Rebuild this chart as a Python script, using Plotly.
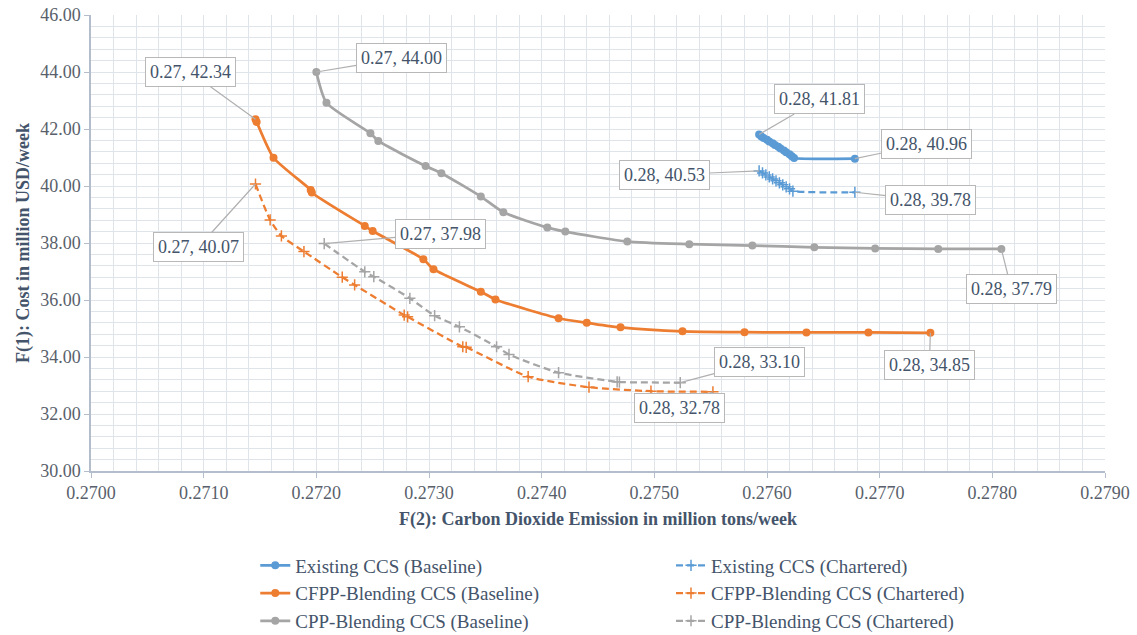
import plotly.graph_objects as go

# Pareto fronts: F(2) CO2 emission (million tons/week) vs F(1) cost (million USD/week)
existing_base_x = [0.27593, 0.27595, 0.27597, 0.27600, 0.27602, 0.27605, 0.27607, 0.27610,
                   0.27612, 0.27615, 0.27617, 0.27620, 0.27622, 0.27624, 0.27678]
existing_base_y = [41.81, 41.74, 41.68, 41.62, 41.56, 41.50, 41.44, 41.38,
                   41.32, 41.25, 41.18, 41.11, 41.04, 40.98, 40.96]

existing_chart_x = [0.27593, 0.27596, 0.27599, 0.27602, 0.27605, 0.27608, 0.27611, 0.27614,
                    0.27617, 0.27620, 0.27623, 0.27678]
existing_chart_y = [40.53, 40.46, 40.39, 40.32, 40.25, 40.18, 40.11, 40.04,
                    39.97, 39.90, 39.82, 39.78]

cfpp_base_x = [0.27146, 0.27147, 0.27162, 0.27195, 0.27196, 0.27243, 0.27250, 0.27295, 0.27304,
               0.27346, 0.27359, 0.27415, 0.27440, 0.27470, 0.27525, 0.27580, 0.27635, 0.27690,
               0.27745]
cfpp_base_y = [42.34, 42.25, 40.99, 39.86, 39.77, 38.60, 38.42, 37.43, 37.08,
               36.29, 36.02, 35.36, 35.20, 35.04, 34.90, 34.87, 34.86, 34.86,
               34.85]

cfpp_chart_x = [0.27146, 0.27159, 0.27169, 0.27189, 0.27223, 0.27234, 0.27278, 0.27281,
                0.27330, 0.27333, 0.27388, 0.27442, 0.27497, 0.27552]
cfpp_chart_y = [40.07, 38.81, 38.25, 37.70, 36.80, 36.53, 35.47, 35.41,
                34.36, 34.34, 33.31, 32.94, 32.80, 32.78]

cpp_base_x = [0.27200, 0.27209, 0.27248, 0.27255, 0.27297, 0.27311, 0.27346, 0.27366,
              0.27405, 0.27421, 0.27476, 0.27531, 0.27587, 0.27642, 0.27696, 0.27752,
              0.27808]
cpp_base_y = [44.00, 42.92, 41.85, 41.58, 40.70, 40.45, 39.63, 39.08,
              38.54, 38.40, 38.05, 37.96, 37.91, 37.85, 37.81, 37.79,
              37.79]

cpp_chart_x = [0.27207, 0.27243, 0.27251, 0.27283, 0.27305, 0.27327, 0.27360, 0.27371,
               0.27415, 0.27467, 0.27469, 0.27523]
cpp_chart_y = [37.98, 36.99, 36.82, 36.06, 35.45, 35.06, 34.36, 34.09,
               33.45, 33.13, 33.12, 33.10]

# Callout labels: (x, y, text, x offset px, y offset px)
callouts = [
    (cpp_base_x[0], cpp_base_y[0], "0.27, 44.00", 85, -14),
    (cfpp_base_x[0], cfpp_base_y[0], "0.27, 42.34", -65, -47),
    (cfpp_chart_x[0], cfpp_chart_y[0], "0.27, 40.07", -57, 63),
    (cpp_chart_x[0], cpp_chart_y[0], "0.27, 37.98", 116, -10),
    (existing_base_x[0], existing_base_y[0], "0.28, 41.81", 60, -35),
    (existing_base_x[-1], existing_base_y[-1], "0.28, 40.96", 72, -15),
    (existing_chart_x[0], existing_chart_y[0], "0.28, 40.53", -95, 4),
    (existing_chart_x[-1], existing_chart_y[-1], "0.28, 39.78", 76, 8),
    (cpp_base_x[-1], cpp_base_y[-1], "0.28, 37.79", 10, 40),
    (cfpp_base_x[-1], cfpp_base_y[-1], "0.28, 34.85", -1, 32),
    (cpp_chart_x[-1], cpp_chart_y[-1], "0.28, 33.10", 79, -21),
    (cfpp_chart_x[-1], cfpp_chart_y[-1], "0.28, 32.78", -33, 16),
]

BLUE, ORANGE, GRAY = "#5B9BD5", "#ED7D31", "#A5A5A5"
TEXT = "#44546A"
TICK_TEXT = "#595F6B"
FONT = "Liberation Serif"

fig = go.Figure()


def baseline(name, xs, ys, color):
    fig.add_trace(go.Scatter(
        x=xs, y=ys, name=name, mode="lines+markers", legend="legend",
        line=dict(color=color, width=2.75, shape="spline", smoothing=0.6),
        marker=dict(symbol="circle", size=8, color=color),
    ))


def chartered(name, xs, ys, color):
    fig.add_trace(go.Scatter(
        x=xs, y=ys, name=name, mode="lines+markers", legend="legend2",
        line=dict(color=color, width=2.25, dash="7px,4px", shape="spline", smoothing=0.6),
        marker=dict(symbol="cross-thin", size=8, line=dict(color=color, width=1.5)),
    ))


baseline("Existing CCS (Baseline)", existing_base_x, existing_base_y, BLUE)
chartered("Existing CCS (Chartered)", existing_chart_x, existing_chart_y, BLUE)
baseline("CFPP-Blending CCS (Baseline)", cfpp_base_x, cfpp_base_y, ORANGE)
chartered("CFPP-Blending CCS (Chartered)", cfpp_chart_x, cfpp_chart_y, ORANGE)
baseline("CPP-Blending CCS (Baseline)", cpp_base_x, cpp_base_y, GRAY)
chartered("CPP-Blending CCS (Chartered)", cpp_chart_x, cpp_chart_y, GRAY)

for x, y, text, ax, ay in callouts:
    fig.add_annotation(
        x=x, y=y, xref="x", yref="y", text=text, showarrow=True,
        ax=ax, ay=ay, arrowhead=0, arrowwidth=1.2, arrowcolor="#B0B0B0",
        bordercolor="#B8B8B8", borderwidth=1, borderpad=4, bgcolor="white",
        font=dict(family=FONT, size=18, color=TEXT),
    )

grid = "#DFE3EA"
axis_line = "#B4BDCC"

legend_common = dict(
    xanchor="left", yanchor="top", orientation="v",
    font=dict(family=FONT, size=19, color=TEXT),
    bgcolor="rgba(0,0,0,0)",
)

fig.update_layout(
    width=1137, height=635,
    margin=dict(l=91, r=32, t=15, b=164, autoexpand=False),
    paper_bgcolor="white", plot_bgcolor="white",
    font=dict(family=FONT, size=18, color=TEXT),
    xaxis=dict(
        range=[0.27, 0.279], dtick=0.001, tick0=0.27, tickformat=".4f",
        showgrid=True, gridcolor=grid, gridwidth=1,
        minor=dict(dtick=0.0002, showgrid=True, gridcolor=grid, gridwidth=1),
        showline=True, linecolor=axis_line, linewidth=1.5,
        ticks="outside", ticklen=5, tickcolor=axis_line,
        zeroline=False,
        title=dict(text="<b>F(2): Carbon Dioxide Emission in million tons/week</b>",
                   font=dict(family=FONT, size=18, color=TEXT), standoff=10),
        tickfont=dict(family=FONT, size=18, color=TICK_TEXT),
    ),
    yaxis=dict(
        range=[30, 46], dtick=2, tick0=30, tickformat=".2f",
        showgrid=True, gridcolor=grid, gridwidth=1,
        minor=dict(dtick=0.4, showgrid=True, gridcolor=grid, gridwidth=1),
        showline=True, linecolor=axis_line, linewidth=1.5,
        ticks="outside", ticklen=5, tickcolor=axis_line,
        zeroline=False,
        title=dict(text="<b>F(1): Cost in million USD/week</b>",
                   font=dict(family=FONT, size=18, color=TEXT), standoff=6),
        tickfont=dict(family=FONT, size=18, color=TICK_TEXT),
    ),
    legend=dict(x=0.162, y=-0.1656, **legend_common),
    legend2=dict(x=0.572, y=-0.1656, **legend_common),
)

fig.write_html("out.html")
